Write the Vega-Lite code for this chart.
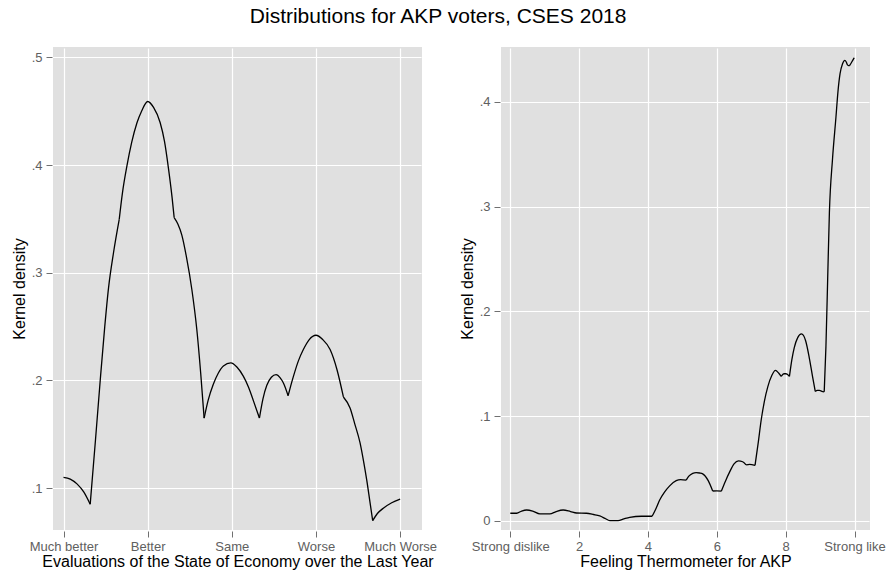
{
  "$schema": "https://vega.github.io/schema/vega-lite/v6.json",
  "title": {"text": "Distributions for AKP voters, CSES 2018", "fontSize": 21, "font": "Liberation Sans", "fontWeight": "normal", "color": "#000000", "offset": 20, "anchor": "middle", "dx": -10},
  "padding": {"left": 11, "top": 6, "right": 2, "bottom": 4},
  "bounds": "flush",
  "spacing": 79,
  "config": {
    "font": "Liberation Sans",
    "view": {"fill": "#e0e0e0", "stroke": null},
    "axis": {
      "domain": false,
      "gridColor": "#ffffff",
      "gridWidth": 1.2,
      "tickColor": "#707070",
      "tickWidth": 1,
      "tickSize": 6,
      "labelColor": "#606060",
      "labelFontSize": 13,
      "labelFont": "Liberation Sans",
      "titleFont": "Liberation Sans",
      "titleFontSize": 16,
      "titleFontWeight": "normal",
      "titleColor": "#000000",
      "offset": 1
    }
  },
  "datasets": {
    "econ": [
      {"seg": 1, "x": 1.0, "y": 0.110}, {"seg": 1, "x": 1.08, "y": 0.1085}, {"seg": 1, "x": 1.16, "y": 0.104}, {"seg": 1, "x": 1.24, "y": 0.0965}, {"seg": 1, "x": 1.317, "y": 0.0851},
      {"seg": 2, "x": 1.317, "y": 0.0851}, {"seg": 2, "x": 1.38, "y": 0.145}, {"seg": 2, "x": 1.436, "y": 0.2}, {"seg": 2, "x": 1.49, "y": 0.25}, {"seg": 2, "x": 1.535, "y": 0.286}, {"seg": 2, "x": 1.594, "y": 0.3186}, {"seg": 2, "x": 1.662, "y": 0.3496},
      {"seg": 3, "x": 1.662, "y": 0.3496}, {"seg": 3, "x": 1.70, "y": 0.374}, {"seg": 3, "x": 1.753, "y": 0.399}, {"seg": 3, "x": 1.81, "y": 0.421}, {"seg": 3, "x": 1.872, "y": 0.439},
      {"seg": 3, "x": 1.93, "y": 0.4505}, {"seg": 3, "x": 2.0, "y": 0.459}, {"seg": 3, "x": 2.07, "y": 0.4535}, {"seg": 3, "x": 2.148, "y": 0.4395}, {"seg": 3, "x": 2.2, "y": 0.422},
      {"seg": 3, "x": 2.247, "y": 0.397}, {"seg": 3, "x": 2.29, "y": 0.37}, {"seg": 3, "x": 2.315, "y": 0.3512},
      {"seg": 4, "x": 2.315, "y": 0.3512}, {"seg": 4, "x": 2.36, "y": 0.345}, {"seg": 4, "x": 2.406, "y": 0.335},
      {"seg": 4, "x": 2.46, "y": 0.315}, {"seg": 4, "x": 2.525, "y": 0.2845}, {"seg": 4, "x": 2.584, "y": 0.2473}, {"seg": 4, "x": 2.63, "y": 0.207}, {"seg": 4, "x": 2.671, "y": 0.1651},
      {"seg": 5, "x": 2.671, "y": 0.1651}, {"seg": 5, "x": 2.72, "y": 0.182}, {"seg": 5, "x": 2.78, "y": 0.1965}, {"seg": 5, "x": 2.84, "y": 0.207}, {"seg": 5, "x": 2.9, "y": 0.2135}, {"seg": 5, "x": 2.988, "y": 0.2163},
      {"seg": 5, "x": 3.06, "y": 0.2125}, {"seg": 5, "x": 3.138, "y": 0.2038}, {"seg": 5, "x": 3.2, "y": 0.1935}, {"seg": 5, "x": 3.257, "y": 0.1811}, {"seg": 5, "x": 3.328, "y": 0.1651},
      {"seg": 6, "x": 3.328, "y": 0.1651}, {"seg": 6, "x": 3.37, "y": 0.183}, {"seg": 6, "x": 3.416, "y": 0.1955}, {"seg": 6, "x": 3.47, "y": 0.203}, {"seg": 6, "x": 3.526, "y": 0.2054}, {"seg": 6, "x": 3.575, "y": 0.2025},
      {"seg": 6, "x": 3.613, "y": 0.1977}, {"seg": 6, "x": 3.669, "y": 0.1859},
      {"seg": 7, "x": 3.669, "y": 0.1859}, {"seg": 7, "x": 3.70, "y": 0.195}, {"seg": 7, "x": 3.732, "y": 0.2038}, {"seg": 7, "x": 3.79, "y": 0.218},
      {"seg": 7, "x": 3.85, "y": 0.2287}, {"seg": 7, "x": 3.92, "y": 0.238}, {"seg": 7, "x": 4.0, "y": 0.242}, {"seg": 7, "x": 4.08, "y": 0.238}, {"seg": 7, "x": 4.168, "y": 0.2287},
      {"seg": 7, "x": 4.25, "y": 0.21}, {"seg": 7, "x": 4.326, "y": 0.1847},
      {"seg": 8, "x": 4.326, "y": 0.1847}, {"seg": 8, "x": 4.405, "y": 0.1744}, {"seg": 8, "x": 4.46, "y": 0.16}, {"seg": 8, "x": 4.524, "y": 0.142},
      {"seg": 8, "x": 4.57, "y": 0.123}, {"seg": 8, "x": 4.603, "y": 0.1077}, {"seg": 8, "x": 4.64, "y": 0.088}, {"seg": 8, "x": 4.674, "y": 0.0699},
      {"seg": 9, "x": 4.674, "y": 0.0699}, {"seg": 9, "x": 4.73, "y": 0.0765},
      {"seg": 9, "x": 4.8, "y": 0.0814}, {"seg": 9, "x": 4.9, "y": 0.0865}, {"seg": 9, "x": 5.0, "y": 0.0898}
    ],
    "ft": [
      {"seg": 1, "x": 0, "y": 0.0074}, {"seg": 1, "x": 0.185, "y": 0.0074}, {"seg": 1, "x": 0.33, "y": 0.0095}, {"seg": 1, "x": 0.475, "y": 0.0105}, {"seg": 1, "x": 0.65, "y": 0.0095},
      {"seg": 1, "x": 0.86, "y": 0.0067}, {"seg": 1, "x": 1.15, "y": 0.0067}, {"seg": 1, "x": 1.33, "y": 0.009}, {"seg": 1, "x": 1.536, "y": 0.0105}, {"seg": 1, "x": 1.75, "y": 0.009},
      {"seg": 1, "x": 1.924, "y": 0.0076}, {"seg": 1, "x": 2.21, "y": 0.0074}, {"seg": 1, "x": 2.42, "y": 0.0062}, {"seg": 1, "x": 2.6, "y": 0.0048}, {"seg": 1, "x": 2.75, "y": 0.0025},
      {"seg": 1, "x": 2.89, "y": 0.0003}, {"seg": 1, "x": 3.13, "y": 0.0003}, {"seg": 1, "x": 3.3, "y": 0.002}, {"seg": 1, "x": 3.47, "y": 0.0035}, {"seg": 1, "x": 3.81, "y": 0.0045},
      {"seg": 1, "x": 4.12, "y": 0.0045},
      {"seg": 2, "x": 4.12, "y": 0.0045}, {"seg": 2, "x": 4.22, "y": 0.011}, {"seg": 2, "x": 4.34, "y": 0.02}, {"seg": 2, "x": 4.48, "y": 0.0275}, {"seg": 2, "x": 4.63, "y": 0.0335},
      {"seg": 2, "x": 4.82, "y": 0.0385}, {"seg": 2, "x": 4.95, "y": 0.0395}, {"seg": 2, "x": 5.11, "y": 0.039},
      {"seg": 3, "x": 5.11, "y": 0.039}, {"seg": 3, "x": 5.18, "y": 0.0425}, {"seg": 3, "x": 5.3, "y": 0.0455},
      {"seg": 3, "x": 5.4, "y": 0.0462}, {"seg": 3, "x": 5.5, "y": 0.0458}, {"seg": 3, "x": 5.59, "y": 0.045}, {"seg": 3, "x": 5.75, "y": 0.0385}, {"seg": 3, "x": 5.88, "y": 0.0286},
      {"seg": 4, "x": 5.88, "y": 0.0286}, {"seg": 4, "x": 6.0, "y": 0.0288}, {"seg": 4, "x": 6.13, "y": 0.0284},
      {"seg": 5, "x": 6.13, "y": 0.0284}, {"seg": 5, "x": 6.25, "y": 0.038}, {"seg": 5, "x": 6.37, "y": 0.0466}, {"seg": 5, "x": 6.5, "y": 0.0545},
      {"seg": 5, "x": 6.63, "y": 0.0574}, {"seg": 5, "x": 6.75, "y": 0.0565}, {"seg": 5, "x": 6.85, "y": 0.0535},
      {"seg": 6, "x": 6.85, "y": 0.0535}, {"seg": 6, "x": 6.95, "y": 0.054}, {"seg": 6, "x": 7.11, "y": 0.053},
      {"seg": 7, "x": 7.11, "y": 0.053}, {"seg": 7, "x": 7.2, "y": 0.074}, {"seg": 7, "x": 7.29, "y": 0.0966}, {"seg": 7, "x": 7.38, "y": 0.114}, {"seg": 7, "x": 7.48, "y": 0.128}, {"seg": 7, "x": 7.6, "y": 0.139},
      {"seg": 7, "x": 7.7, "y": 0.1437}, {"seg": 7, "x": 7.8, "y": 0.141}, {"seg": 7, "x": 7.87, "y": 0.138},
      {"seg": 8, "x": 7.87, "y": 0.138}, {"seg": 8, "x": 7.95, "y": 0.1405}, {"seg": 8, "x": 8.01, "y": 0.1405}, {"seg": 8, "x": 8.11, "y": 0.138},
      {"seg": 9, "x": 8.11, "y": 0.138}, {"seg": 9, "x": 8.18, "y": 0.154}, {"seg": 9, "x": 8.25, "y": 0.1655}, {"seg": 9, "x": 8.35, "y": 0.175}, {"seg": 9, "x": 8.46, "y": 0.1785},
      {"seg": 9, "x": 8.58, "y": 0.172}, {"seg": 9, "x": 8.69, "y": 0.155}, {"seg": 9, "x": 8.78, "y": 0.138}, {"seg": 9, "x": 8.86, "y": 0.1236},
      {"seg": 10, "x": 8.86, "y": 0.1236}, {"seg": 10, "x": 8.92, "y": 0.1246}, {"seg": 10, "x": 8.98, "y": 0.1246}, {"seg": 10, "x": 9.05, "y": 0.1238}, {"seg": 10, "x": 9.12, "y": 0.1233},
      {"seg": 11, "x": 9.12, "y": 0.1233}, {"seg": 11, "x": 9.17, "y": 0.1666}, {"seg": 11, "x": 9.22, "y": 0.2304},
      {"seg": 11, "x": 9.27, "y": 0.294}, {"seg": 11, "x": 9.36, "y": 0.345}, {"seg": 11, "x": 9.46, "y": 0.385}, {"seg": 11, "x": 9.52, "y": 0.41}, {"seg": 11, "x": 9.58, "y": 0.4268},
      {"seg": 11, "x": 9.65, "y": 0.436}, {"seg": 11, "x": 9.72, "y": 0.4395}, {"seg": 11, "x": 9.76, "y": 0.438}, {"seg": 11, "x": 9.8, "y": 0.435}, {"seg": 11, "x": 9.85, "y": 0.4343},
      {"seg": 12, "x": 9.85, "y": 0.4343}, {"seg": 12, "x": 9.92, "y": 0.438}, {"seg": 12, "x": 9.99, "y": 0.442}
    ]
  },
  "hconcat": [
    {
      "width": 369,
      "height": 483,
      "data": {"name": "econ"},
      "mark": {"type": "line", "color": "#000000", "strokeWidth": 1.3, "interpolate": "monotone", "clip": true},
      "encoding": {
        "detail": {"field": "seg", "type": "nominal"},
        "x": {
          "field": "x", "type": "quantitative",
          "scale": {"domain": [0.875, 5.26], "nice": false, "zero": false},
          "axis": {
            "title": "Evaluations of the State of Economy over the Last Year",
            "values": [1, 2, 3, 4, 5],
            "labelExpr": "['', 'Much better', 'Better', 'Same', 'Worse', 'Much Worse'][datum.value]",
            "labelPadding": 3,
            "titleBaseline": "alphabetic",
            "titleY": 35
          }
        },
        "y": {
          "field": "y", "type": "quantitative",
          "scale": {"domain": [0.0612, 0.5096], "nice": false, "zero": false},
          "axis": {
            "title": "Kernel density",
            "values": [0.1, 0.2, 0.3, 0.4, 0.5],
            "labelExpr": "substring(format(datum.value, '.1f'), 1)",
            "labelPadding": 4,
            "titleBaseline": "alphabetic",
            "titleX": -28
          }
        }
      }
    },
    {
      "width": 369,
      "height": 483,
      "data": {"name": "ft"},
      "mark": {"type": "line", "color": "#000000", "strokeWidth": 1.3, "interpolate": "monotone", "clip": true},
      "encoding": {
        "detail": {"field": "seg", "type": "nominal"},
        "x": {
          "field": "x", "type": "quantitative",
          "scale": {"domain": [-0.27, 10.45], "nice": false, "zero": false},
          "axis": {
            "title": "Feeling Thermometer for AKP",
            "values": [0, 2, 4, 6, 8, 10],
            "labelExpr": "datum.value == 0 ? 'Strong dislike' : (datum.value == 10 ? 'Strong like' : format(datum.value, 'd'))",
            "labelPadding": 3,
            "titleBaseline": "alphabetic",
            "titleY": 35
          }
        },
        "y": {
          "field": "y", "type": "quantitative",
          "scale": {"domain": [-0.0086, 0.4523], "nice": false, "zero": false},
          "axis": {
            "title": "Kernel density",
            "values": [0, 0.1, 0.2, 0.3, 0.4],
            "labelExpr": "datum.value == 0 ? '0' : substring(format(datum.value, '.1f'), 1)",
            "labelPadding": 4,
            "titleBaseline": "alphabetic",
            "titleX": -28
          }
        }
      }
    }
  ]
}
